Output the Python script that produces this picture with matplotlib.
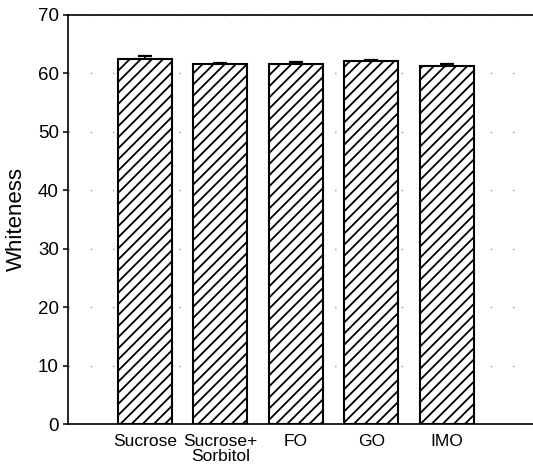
import numpy as np
import matplotlib
matplotlib.use("Agg")
import matplotlib.pyplot as plt

# ------------------ Data ------------------
CATEGORIES = ["Sucrose", "Sucrose+\nSorbitol", "FO", "GO", "IMO"]
WHITENESS  = [62.4, 61.5, 61.6, 62.0, 61.2]
ERRORS     = [0.45, 0.25, 0.3, 0.3, 0.35]
Y_TICKS    = [0, 10, 20, 30, 40, 50, 60, 70]
# ------------------------------------------

plt.rcParams["font.family"] = ["Liberation Sans", "DejaVu Sans"]
plt.rcParams["hatch.linewidth"] = 1.3

fig = plt.figure(figsize=(5.33, 4.69), dpi=100)
ax = fig.add_axes([68 / 533, 45 / 469, 1 - 68 / 533, (424 - 14.5) / 469])

x = np.arange(len(CATEGORIES))
# error bars sit behind the (white) bars, so only the upper half shows
ax.errorbar(x, WHITENESS, yerr=ERRORS, fmt="none", ecolor="black",
            elinewidth=1.2, capsize=5, capthick=1.6, zorder=2)
ax.bar(x, WHITENESS, width=0.715, color="white", edgecolor="black",
       linewidth=1.5, hatch="///", zorder=3)

ax.set_xlim(-1.02, 5.14)
ax.set_ylim(0, 70)
ax.set_yticks(Y_TICKS)
ax.set_xticks(x)
ax.set_xticklabels(CATEGORIES, fontsize=12.5, linespacing=1.0)

ax.tick_params(axis="x", length=0, pad=7.5)
ax.tick_params(axis="y", direction="out", length=3.5, width=1.1,
               labelsize=13.5, pad=3)

ax.yaxis.grid(True, color="#999999", linestyle=(0, (1, 15)), linewidth=1.0,
              zorder=0)

for side in ["left", "bottom", "top"]:
    ax.spines[side].set_linewidth(1.2)
ax.spines["right"].set_visible(False)

ax.set_ylabel("Whiteness", fontsize=16, labelpad=8)

fig.savefig("out.png", dpi=100)
